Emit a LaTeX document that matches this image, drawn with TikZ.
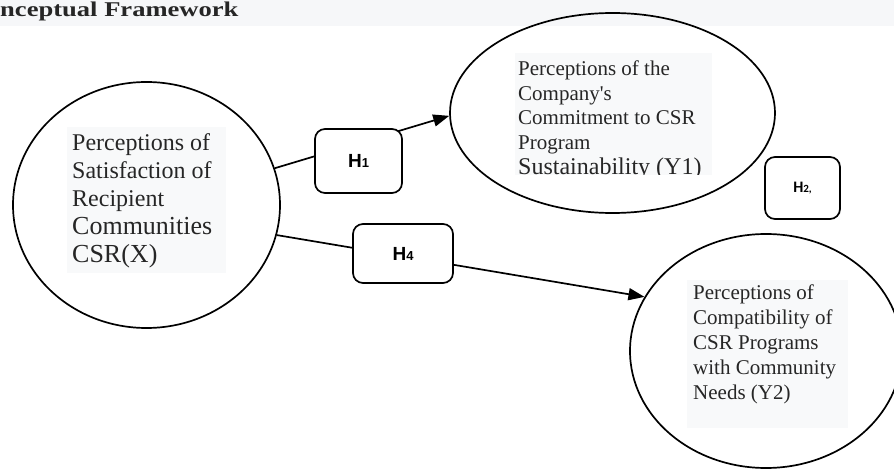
\documentclass[tikz,border=0pt]{standalone}
\usepackage{graphicx}
\usepackage{fontspec}
\setmainfont{Liberation Serif}
\newfontfamily\hfont{Liberation Sans}
\newfontfamily\cfont{Carlito}
\usetikzlibrary{shapes.geometric,arrows.meta}
\definecolor{band}{HTML}{F6F7F9}
\definecolor{tbg}{HTML}{F8F9FA}
\definecolor{txt}{HTML}{262626}
\begin{document}
\begin{tikzpicture}[x=1pt,y=-1pt,
  var/.style={draw, line width=1.7pt, ellipse, inner sep=0pt},
  hbox/.style={draw, line width=1.7pt, rounded corners=10pt, fill=white, inner sep=0pt,
    font=\hfont\bfseries\fontsize{19}{19}\selectfont},
  link/.style={line width=1.7pt},
  arr/.style={link, -{Triangle[length=16pt,width=12pt]}},
  tbox/.style={fill=tbg},
  vtext/.style={anchor=north west, align=left, inner sep=0pt, text=txt},
]
\useasboundingbox (0,0) rectangle (894,470);
\clip (0,0) rectangle (894,470);
\fill[white] (0,0) rectangle (894,470);
\fill[band] (0,0) rectangle (894,26);
\node[anchor=base west, inner sep=0pt, text=txt,
  font=\bfseries\fontsize{21}{24}\selectfont] (title) at (0,16.5)
  {\scalebox{1.265}[1]{nceptual Framework}};

% latent variables
\node[var, minimum width=267pt, minimum height=246pt] (X) at (146.5,205) {};
\node[var, minimum width=325pt, minimum height=200pt] (Y1) at (612.5,113) {};
\node[var, minimum width=272pt, minimum height=234pt] (Y2) at (766,351) {};

% texts
\fill[tbox] (67,127) rectangle (226,273);
\node[vtext, font=\fontsize{24}{28}\selectfont] (tX) at (72,133.5)
  {Perceptions of\\Satisfaction of\\Recipient\\{\fontsize{26}{28}\selectfont Communities}\\{\fontsize{26}{28}\selectfont CSR(X)}};

\fill[tbox] (515,53) rectangle (712,175);
\begin{scope}
\clip (515,53) rectangle (712,175);
\node[vtext, font=\fontsize{21}{24.7}\selectfont] (tY1) at (518,60.5)
  {Perceptions of the\\Company\textquotesingle s\\Commitment to CSR\\Program\\{\fontsize{24}{24.7}\selectfont Sustainability (Y1)}};
\end{scope}

\fill[tbox] (687,280) rectangle (848,428);
\node[vtext, font=\fontsize{21}{25}\selectfont] (tY2) at (693,284.5)
  {Perceptions of\\Compatibility of\\CSR Programs\\with Community\\Needs (Y2)};

% connectors
\draw[arr] (X.16.5) -- (Y1.181.4);
\draw[arr] (X.347.4) -- (Y2.156.9);

% hypothesis boxes
\node[hbox, minimum width=87pt, minimum height=64pt] (H1) at (358.5,161)
  {H{\fontsize{13}{13}\selectfont 1}};
\node[hbox, minimum width=100pt, minimum height=59pt] (H4) at (403,253.5)
  {H{\fontsize{13}{13}\selectfont 4}};
\node[hbox, minimum width=75pt, minimum height=62pt, font=\cfont\bfseries\fontsize{16}{16}\selectfont] (H2) at (802.5,188)
  {H{\fontsize{11}{11}\selectfont 2,}};
\end{tikzpicture}
\end{document}
